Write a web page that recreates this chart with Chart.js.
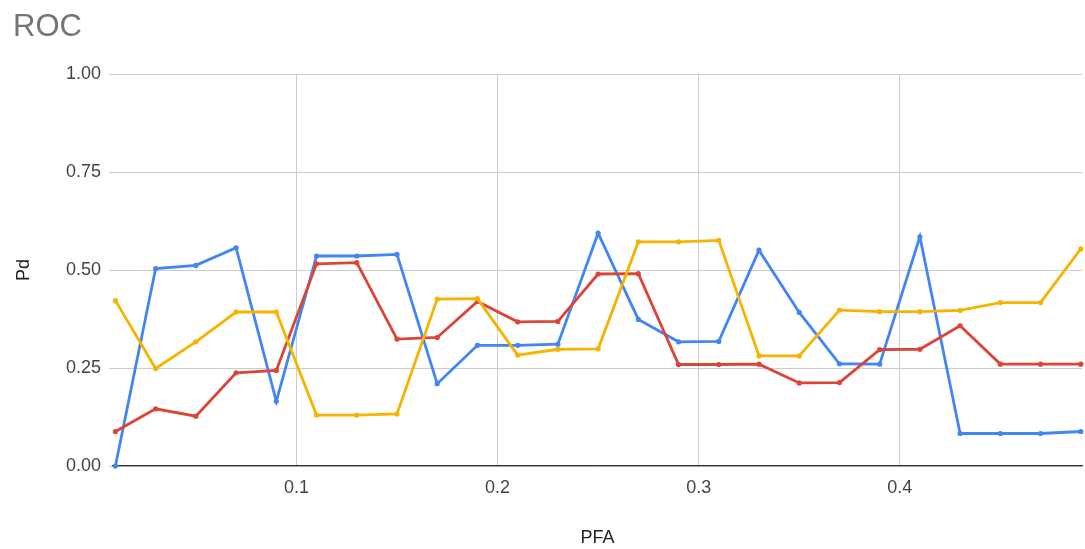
<!DOCTYPE html>
<html>
<head>
<meta charset="utf-8">
<script src="https://cdn.jsdelivr.net/npm/chart.js@4"></script>
<style>
  html, body { margin: 0; padding: 0; background: #fff; }
  #wrap { width: 1085px; height: 549px; }
</style>
</head>
<body>
<div id="wrap"><canvas id="roc"></canvas></div>
<script>
// False-alarm probabilities (x) and detection probabilities (y) for three runs
const pfa = [0.01, 0.03, 0.05, 0.07, 0.09, 0.11, 0.13, 0.15, 0.17, 0.19,
             0.21, 0.23, 0.25, 0.27, 0.29, 0.31, 0.33, 0.35, 0.37, 0.39,
             0.41, 0.43, 0.45, 0.47, 0.49];
const pdBlue = [0.000, 0.504, 0.512, 0.557, 0.165, 0.536, 0.536, 0.540, 0.210, 0.308,
                0.308, 0.311, 0.594, 0.374, 0.317, 0.318, 0.551, 0.392, 0.261, 0.260,
                0.585, 0.083, 0.083, 0.083, 0.088];
const pdRed = [0.088, 0.146, 0.127, 0.238, 0.244, 0.516, 0.519, 0.324, 0.328, 0.420,
               0.368, 0.369, 0.490, 0.491, 0.259, 0.259, 0.260, 0.212, 0.213, 0.297,
               0.298, 0.358, 0.260, 0.260, 0.260];
const pdYellow = [0.422, 0.249, 0.317, 0.393, 0.393, 0.130, 0.130, 0.133, 0.426, 0.427,
                  0.283, 0.298, 0.299, 0.572, 0.572, 0.576, 0.281, 0.281, 0.398, 0.394,
                  0.394, 0.397, 0.417, 0.417, 0.554];
const xTicks = [0.1, 0.2, 0.3, 0.4];
const yTicks = [0, 0.25, 0.5, 0.75, 1];

const FONT = '"Liberation Sans", Arial, sans-serif';

function series(values, color, order) {
  return {
    data: pfa.map((x, i) => ({ x: x, y: values[i] })),
    borderColor: color,
    backgroundColor: color,
    borderWidth: 2.8,
    pointRadius: 2.6,
    pointBorderWidth: 0,
    pointHoverRadius: 3,
    tension: 0,
    clip: false,
    order: order
  };
}

new Chart(document.getElementById('roc'), {
  type: 'line',
  data: {
    datasets: [
      series(pdBlue, '#4285F4', 2),
      series(pdRed, '#DB4437', 1),
      series(pdYellow, '#F4B400', 0)
    ]
  },
  options: {
    responsive: true,
    maintainAspectRatio: false,
    animation: false,
    layout: { padding: { left: 13, right: 2, top: 0, bottom: 0 } },
    plugins: {
      legend: { display: false },
      tooltip: { enabled: false },
      title: {
        display: true,
        text: 'ROC',
        align: 'start',
        color: '#757575',
        font: { family: FONT, size: 31, weight: 'normal' },
        padding: { top: 9, bottom: 28 }
      }
    },
    scales: {
      x: {
        type: 'linear',
        // a little breathing room on either side of the first and last PFA value
        min: 0.0088,
        max: 0.4906,
        afterBuildTicks: s => { s.ticks = xTicks.map(v => ({ value: v })); },
        afterFit: s => { s.height = 83; },
        grid: { color: '#cccccc', drawTicks: false, lineWidth: 1 },
        border: { display: true, color: '#333333', width: 1.2 },
        ticks: {
          color: '#444444',
          padding: 11,
          maxRotation: 0,
          font: { family: FONT, size: 18 },
          callback: v => v.toFixed(1)
        },
        title: {
          display: true,
          text: 'PFA',
          color: '#222222',
          font: { family: FONT, size: 18 },
          padding: { top: 0, bottom: 0 }
        }
      },
      y: {
        type: 'linear',
        min: 0,
        max: 1,
        afterBuildTicks: s => { s.ticks = yTicks.map(v => ({ value: v })); },
        afterFit: s => { s.width = 100; },
        grid: { color: '#cccccc', drawTicks: true, tickLength: 4, lineWidth: 1 },
        border: { display: false },
        ticks: {
          color: '#444444',
          padding: 8,
          font: { family: FONT, size: 18 },
          callback: v => v.toFixed(2)
        },
        title: {
          display: true,
          text: 'Pd',
          color: '#222222',
          font: { family: FONT, size: 18 },
          padding: { top: 0, bottom: 0 }
        }
      }
    }
  }
});
</script>
</body>
</html>
